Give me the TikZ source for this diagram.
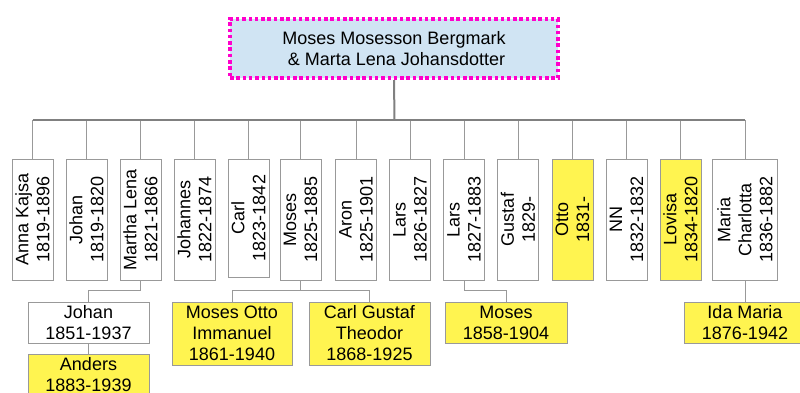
\documentclass[tikz,border=0pt]{standalone}
\usepackage{fontspec}
\setmainfont{Liberation Sans}
\usepackage{tikz}
\usetikzlibrary{positioning,calc}
\definecolor{fbMagenta}{HTML}{FF00CC}
\definecolor{fbSky}{HTML}{D0E4F3}
\definecolor{fbYellow}{HTML}{FFF450}
\definecolor{fbLine}{HTML}{999999}
\definecolor{fbTrunk}{HTML}{808080}
\tikzset{
  famRoot/.style={
    draw=fbMagenta,
    fill=fbSky,
    line width=4pt,
    dash pattern=on 3.5pt off 2.8pt,
    align=center,
    font=\fontsize{18}{21}\selectfont,
    minimum width=328pt,
    minimum height=59pt
  },
  famKid/.style={
    draw=fbLine,
    fill=white,
    line width=1pt,
    rotate=90,
    align=center,
    inner sep=2pt,
    font=\fontsize{18}{21}\selectfont,
    minimum width=121pt,
    minimum height=41pt
  },
  famKidHi/.style={
    famKid,
    fill=fbYellow
  },
  famGrand/.style={
    draw=fbLine,
    fill=white,
    line width=1pt,
    align=center,
    inner sep=2pt,
    font=\fontsize{18}{21}\selectfont,
    minimum width=121pt,
    minimum height=41pt
  },
  famGrandHi/.style={
    famGrand,
    fill=fbYellow
  },
  famLink/.style={
    draw=fbLine,
    line width=1pt
  },
  famTrunk/.style={
    draw=fbTrunk,
    line width=2pt
  }
}
\begin{document}
\begin{tikzpicture}[x=1pt,y=-1pt]
  \useasboundingbox (0,0) rectangle (800,392);

  \node[famRoot] (root) at (394,48.5) {Moses Mosesson Bergmark\\\ \& Marta Lena Johansdotter};

  % children
  \node[famKid] (anna) at (32.5,219.5) {Anna Kajsa\\1819-1896};
  \node[famKid] (johan) at (86.5,219.5) {Johan\\1819-1820};
  \node[famKid] (martha) at (140.5,219.5) {Martha Lena\\1821-1866};
  \node[famKid] (johannes) at (194.5,219.5) {Johannes\\1822-1874};
  \node[famKid, minimum width=118pt] (carl) at (248.5,218) {Carl\\1823-1842};
  \node[famKid] (moses) at (300.5,219.5) {Moses\\1825-1885};
  \node[famKid] (aron) at (356,219.5) {Aron\\1825-1901};
  \node[famKid] (larsA) at (410,219.5) {Lars\\1826-1827};
  \node[famKid] (larsB) at (464,219.5) {Lars\\1827-1883};
  \node[famKid] (gustaf) at (518,219.5) {Gustaf\\1829-};
  \node[famKidHi] (otto) at (572.5,219.5) {Otto\\1831-};
  \node[famKid] (nn) at (626.5,219.5) {NN\\1832-1832};
  \node[famKidHi] (lovisa) at (680.5,219.5) {Lovisa\\1834-1820};
  \node[famKid, minimum height=65pt] (maria) at (745,219.5) {Maria\\Charlotta\\1836-1882};

  % grandchildren
  \node[famGrand] (sonjohan) at (88.5,322.5) {Johan\\1851-1937};
  \node[famGrandHi] (anders) at (88.5,375) {Anders\\1883-1939};
  \node[famGrandHi, minimum width=120pt, minimum height=63pt] (mosesotto) at (232,333.5) {Moses Otto\\Immanuel\\1861-1940};
  \node[famGrandHi, minimum height=63pt] (carlgustaf) at (369.5,333.5) {Carl Gustaf\\Theodor\\1868-1925};
  \node[famGrandHi, minimum width=122pt] (mosesjr) at (506,322.5) {Moses\\1858-1904};
  \node[famGrandHi, minimum width=122pt] (idamaria) at (745,322.5) {Ida Maria\\1876-1942};

  \coordinate (hub) at (394.5,120);
  \draw[famTrunk] (root.south) -- (hub);
  \foreach \k in {anna,johan,martha,johannes,carl,moses,aron,larsA,larsB,gustaf,otto,nn,lovisa,maria}
    \draw[famLink] (\k.east) -- (\k.east |- hub);
  \draw[famTrunk] (anna.east |- hub) -- (maria.east |- hub);

  \draw[famLink] (martha.west) -- ++(0,10) -| (sonjohan.north);
  \draw[famLink] (sonjohan.south) -- (anders.north);
  \draw[famLink] (moses.west) -- ++(0,10) coordinate (mfork);
  \draw[famLink] (mosesotto.north) |- (mfork) -| (carlgustaf.north);
  \draw[famLink] (larsB.west) -- ++(0,10) -| (mosesjr.north);
  \draw[famLink] (maria.west) -- (idamaria.north);
\end{tikzpicture}
\end{document}
